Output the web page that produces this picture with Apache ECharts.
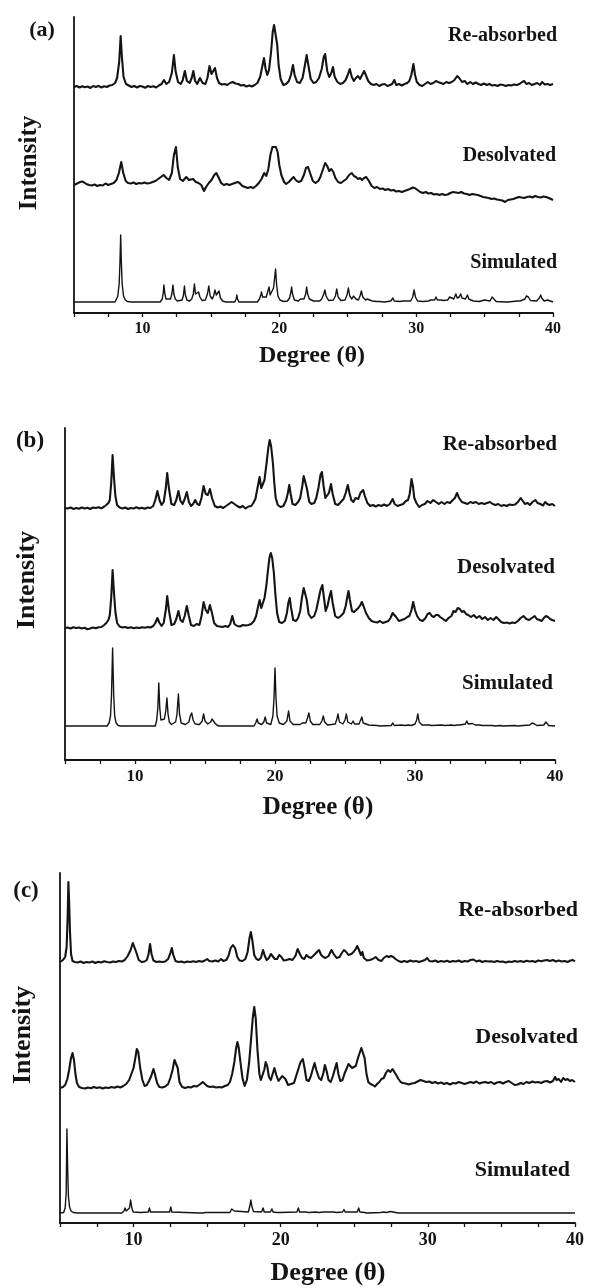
<!DOCTYPE html>
<html>
<head>
<meta charset="utf-8">
<script src="https://cdn.jsdelivr.net/npm/echarts@6/dist/echarts.min.js"></script>
<style>
html,body{margin:0;padding:0;background:#fff;}
#chart{width:594px;height:1288px;}
</style>
</head>
<body>
<div id="chart"></div>
<script>
// ---------- data (x = degree, y = intensity a.u., flat pairs) ----------
const xTickLabels = [10, 20, 30, 40];
const traceNames = ['Re-absorbed', 'Desolvated', 'Simulated'];

// Panel (a)
const aReabsorbed = [5.0,0, 5.2,1, 5.4,-0.5, 5.6,0.8, 5.8,-0.3, 6.0,0.5, 6.2,-1, 6.4,1, 6.6,0, 6.8,1.2, 7.0,-0.5, 7.2,0.8, 7.4,0, 7.6,1.5, 7.8,2, 8.0,4, 8.15,9, 8.3,25, 8.41,51, 8.5,30, 8.62,10, 8.8,3, 9.0,1.5, 9.2,0, 9.4,1, 9.6,-0.5, 9.8,1, 10.0,0.5, 10.2,-0.8, 10.4,1, 10.6,0, 10.8,0.8, 11.0,-0.5, 11.2,1.5, 11.4,3, 11.57,7, 11.75,3, 11.95,5, 12.15,14, 12.3,32, 12.42,16, 12.6,5, 12.8,3, 12.95,7, 13.1,16, 13.25,6, 13.45,4, 13.6,9, 13.72,16, 13.85,6, 14.0,3, 14.2,9, 14.4,4, 14.6,3, 14.75,9, 14.9,21, 15.05,13, 15.15,11, 15.3,19, 15.45,9, 15.6,4, 15.8,2.5, 16.0,3, 16.2,2, 16.4,4, 16.6,5, 16.8,3.5, 17.0,3, 17.2,1.5, 17.4,2, 17.6,0.5, 17.8,1.5, 18.0,0.5, 18.2,2, 18.4,4, 18.6,10, 18.75,20, 18.88,29, 19.0,18, 19.12,12, 19.25,17, 19.4,35, 19.52,55, 19.62,62, 19.72,60, 19.85,42, 19.95,22, 20.1,8, 20.3,2, 20.5,3, 20.7,6, 20.85,12, 21.0,22, 21.12,12, 21.3,5, 21.5,4, 21.7,9, 21.85,20, 22.0,32, 22.12,22, 22.3,8, 22.5,4, 22.7,5, 22.9,9, 23.1,18, 23.25,30, 23.35,33, 23.5,16, 23.65,10, 23.8,14, 23.92,20, 24.05,10, 24.25,5, 24.45,3, 24.65,4, 24.85,7, 25.0,12, 25.15,18, 25.3,10, 25.45,6, 25.6,9, 25.75,11, 25.9,8, 26.05,12, 26.2,16, 26.35,11, 26.5,6, 26.7,3, 26.9,2, 27.1,3, 27.3,1, 27.5,2.5, 27.7,3, 27.9,1, 28.1,2, 28.25,3, 28.4,7, 28.55,2, 28.75,3, 28.95,1.5, 29.15,3, 29.35,4, 29.5,6, 29.65,12, 29.8,23, 29.92,12, 30.05,5, 30.25,2, 30.45,1, 30.65,3, 30.85,5, 31.05,3, 31.25,4, 31.45,6, 31.6,5, 31.8,4, 32.0,3, 32.2,5, 32.4,4, 32.6,5, 32.8,7, 33.0,11, 33.15,9, 33.35,5, 33.55,6, 33.75,3, 33.95,5, 34.15,3, 34.35,4.5, 34.55,3, 34.75,2, 34.95,3.5, 35.15,2, 35.35,3, 35.55,1.5, 35.75,2, 35.95,1, 36.15,2.5, 36.35,2, 36.55,1, 36.75,2, 36.95,1.5, 37.15,2.5, 37.35,2, 37.55,3, 37.75,5, 37.9,6, 38.05,3, 38.25,4, 38.45,2, 38.65,3, 38.85,4, 39.05,2, 39.2,5, 39.4,2.5, 39.6,3, 39.8,2, 40.0,3];

const aDesolvated = [5.0,0, 5.15,1, 5.3,2, 5.45,3, 5.6,3.5, 5.75,2.5, 5.9,1, 6.1,0, 6.3,-0.5, 6.5,0.5, 6.7,-1, 6.9,0, 7.1,-0.5, 7.3,1.5, 7.5,0, 7.7,1, 7.9,2, 8.1,5, 8.28,12, 8.45,23, 8.6,12, 8.78,4, 8.95,2, 9.15,1.5, 9.35,2.5, 9.55,1, 9.75,2, 9.95,1.5, 10.15,2.5, 10.35,1.5, 10.55,2, 10.75,3, 10.95,4, 11.15,6, 11.35,8, 11.55,10, 11.75,7, 11.95,5, 12.15,12, 12.3,30, 12.45,38, 12.58,18, 12.75,6, 12.95,4, 13.2,8, 13.4,5, 13.7,6, 13.9,3, 14.1,2, 14.3,0, 14.5,-6, 14.65,-2, 14.85,2, 15.05,5, 15.25,10, 15.4,12, 15.55,8, 15.75,2, 15.95,0, 16.15,1, 16.35,0, 16.55,1, 16.75,2, 16.95,3, 17.1,2, 17.3,-1, 17.5,-2, 17.7,-3, 17.9,-2, 18.1,-3, 18.3,-1, 18.5,2, 18.7,6, 18.9,12, 19.05,9, 19.2,16, 19.35,30, 19.5,38, 19.62,37, 19.75,38, 19.88,33, 20.0,20, 20.15,10, 20.35,3, 20.5,1, 20.7,3, 20.9,6, 21.05,8, 21.2,5, 21.4,3, 21.6,4, 21.8,10, 21.95,17, 22.1,18, 22.25,12, 22.45,4, 22.65,2, 22.85,4, 23.0,8, 23.2,16, 23.35,22, 23.5,19, 23.65,14, 23.8,16, 23.95,13, 24.1,7, 24.3,3, 24.5,2, 24.7,4, 24.9,6, 25.1,10, 25.3,12, 25.45,9, 25.6,8, 25.75,6, 25.9,7, 26.05,5, 26.2,7, 26.35,8, 26.55,4, 26.75,-1, 26.95,-3, 27.15,-2, 27.35,-4, 27.55,-3.5, 27.75,-5, 27.95,-4, 28.15,-5.5, 28.35,-5, 28.55,-6.5, 28.75,-6, 28.95,-7, 29.15,-6, 29.35,-5, 29.55,-4, 29.75,-2.5, 29.9,-3, 30.1,-5, 30.3,-7, 30.5,-8, 30.7,-7, 30.9,-8.5, 31.1,-8, 31.3,-9.5, 31.5,-9, 31.7,-10, 31.9,-9, 32.1,-10, 32.3,-9.5, 32.5,-8, 32.7,-7, 32.9,-7.5, 33.1,-8, 33.3,-7, 33.5,-8.5, 33.7,-9, 33.9,-10, 34.1,-9, 34.3,-9.5, 34.5,-10, 34.7,-11, 34.9,-12, 35.1,-12.5, 35.3,-13, 35.5,-14, 35.7,-13.5, 35.9,-14.5, 36.1,-15, 36.3,-15.5, 36.5,-17, 36.7,-15, 36.9,-14.5, 37.1,-14, 37.3,-13, 37.5,-12, 37.7,-12.5, 37.9,-13, 38.1,-12, 38.3,-11.5, 38.5,-12.5, 38.7,-11, 38.9,-12, 39.1,-12.5, 39.3,-11.5, 39.5,-12, 39.7,-13, 39.85,-14, 40.0,-15];

const aSimulated = [5.0,0, 7.0,0, 7.1,1.2, 7.2,0, 8.0,0, 8.1,2, 8.2,6, 8.3,18, 8.36,40, 8.41,67, 8.46,40, 8.52,18, 8.62,6, 8.75,2, 8.9,0.5, 9.2,0, 11.3,0, 11.45,3, 11.52,9, 11.57,17, 11.63,9, 11.72,3, 11.85,1, 12.05,3, 12.15,8, 12.23,17, 12.3,8, 12.4,3, 12.55,1, 12.9,2, 13.0,7, 13.07,16, 13.14,7, 13.25,2, 13.45,1, 13.6,3, 13.72,8, 13.8,18, 13.88,8, 14.0,6, 14.1,10, 14.2,5, 14.35,1.5, 14.6,2, 14.75,8, 14.85,16, 14.95,6, 15.1,3, 15.2,6, 15.3,12, 15.4,7, 15.52,8, 15.6,11, 15.7,4, 15.85,1, 16.1,0, 16.75,0, 16.85,3, 16.9,7, 16.95,3, 17.05,0, 18.4,0, 18.55,3, 18.65,7, 18.7,10, 18.78,5, 18.9,3, 19.05,5, 19.15,10, 19.25,15, 19.33,7, 19.45,6, 19.58,14, 19.66,24, 19.73,33, 19.8,18, 19.9,6, 20.05,2, 20.3,0.5, 20.6,1, 20.75,4, 20.85,10, 20.9,15, 20.97,8, 21.1,2, 21.4,1, 21.55,3, 21.6,5, 21.65,2, 21.8,3, 21.93,8, 22.0,15, 22.07,8, 22.2,3, 22.5,1, 22.95,1, 23.1,3, 23.25,8, 23.33,12, 23.42,6, 23.6,1.5, 23.95,2, 24.1,6, 24.2,13, 24.3,5, 24.5,1.5, 24.8,2, 24.95,7, 25.05,14, 25.15,6, 25.3,3, 25.42,6, 25.5,8, 25.6,3, 25.78,2, 25.9,6, 26.0,11, 26.1,5, 26.3,2, 26.45,3, 26.5,5, 26.6,2, 26.8,1, 27.1,0.5, 27.2,2, 27.3,0.5, 27.7,0, 28.15,1, 28.3,4, 28.4,1, 28.8,0.5, 29.05,1, 29.1,3, 29.2,1, 29.6,1, 29.75,5, 29.85,12, 29.95,5, 30.1,1, 30.5,0.5, 30.9,1, 31.05,2, 31.15,1, 31.35,2, 31.45,5, 31.55,2, 31.8,2, 31.9,4, 32.0,1.5, 32.3,2, 32.45,5, 32.5,7, 32.58,3, 32.75,3, 32.9,8, 33.0,4, 33.15,5, 33.25,8, 33.35,4, 33.6,3, 33.75,7, 33.85,3, 34.0,2, 34.1,4, 34.2,1, 34.6,0.5, 35.0,2, 35.1,0.5, 35.4,1, 35.55,5, 35.6,7, 35.68,3, 35.85,0.5, 36.5,0, 36.6,2, 36.7,0, 37.4,1, 37.5,3, 37.6,1, 37.95,3, 38.05,6, 38.12,8, 38.2,5, 38.35,1.5, 38.8,1, 39.0,4, 39.1,7, 39.18,4, 39.35,1, 39.6,2, 39.7,0.5, 40.0,0];

// Panel (b)
const bReabsorbed = [5.0,0, 5.2,-0.5, 5.4,0.5, 5.6,-1, 5.8,0, 6.0,-0.8, 6.2,0.5, 6.4,-0.5, 6.6,0.3, 6.8,-1, 7.0,0.5, 7.2,0, 7.4,0.8, 7.6,-0.3, 7.8,1.5, 7.95,3, 8.1,5, 8.2,8, 8.3,25, 8.4,53, 8.5,30, 8.6,12, 8.72,3, 8.9,0.5, 9.1,-0.5, 9.3,0.5, 9.5,-1, 9.7,0, 9.9,-0.5, 10.1,0.8, 10.3,-0.5, 10.5,0.3, 10.7,-0.8, 10.9,0.5, 11.1,0, 11.3,2, 11.45,8, 11.6,17, 11.75,8, 11.9,3, 12.05,6, 12.2,20, 12.3,35, 12.42,20, 12.6,4, 12.8,3, 12.95,8, 13.1,17, 13.25,7, 13.4,4, 13.55,9, 13.7,16, 13.85,6, 14.0,2, 14.15,4, 14.3,8, 14.45,4, 14.6,3, 14.75,10, 14.9,22, 15.05,14, 15.2,13, 15.35,19, 15.5,10, 15.7,2, 15.9,0.5, 16.1,1.5, 16.3,0, 16.5,2, 16.7,4, 16.9,6, 17.1,4, 17.3,2, 17.5,0.5, 17.7,2, 17.9,-0.5, 18.1,1.5, 18.3,2, 18.45,5, 18.6,9, 18.75,20, 18.9,31, 19.02,20, 19.12,18, 19.25,28, 19.4,45, 19.52,60, 19.62,68, 19.72,62, 19.85,45, 19.95,25, 20.05,10, 20.2,3, 20.4,1, 20.6,2, 20.8,8, 20.92,15, 21.02,23, 21.12,14, 21.25,4, 21.45,3, 21.65,6, 21.8,10, 21.95,22, 22.05,32, 22.15,34, 22.27,20, 22.45,6, 22.6,4, 22.8,5, 22.95,10, 23.1,20, 23.25,33, 23.35,36, 23.47,22, 23.6,10, 23.7,9, 23.85,15, 24.0,24, 24.12,14, 24.3,4, 24.5,3, 24.7,6, 24.9,9, 25.05,15, 25.2,23, 25.32,15, 25.45,8, 25.6,6, 25.75,10, 25.85,12, 25.95,9, 26.1,15, 26.2,14, 26.3,18, 26.42,12, 26.6,5, 26.8,2, 27.0,3, 27.2,1.5, 27.4,3, 27.6,2, 27.8,3.5, 28.0,2, 28.2,4, 28.4,9, 28.55,4, 28.75,2, 28.95,3, 29.15,4, 29.35,7, 29.5,8, 29.62,14, 29.75,29, 29.85,22, 29.95,10, 30.1,5, 30.3,1, 30.5,3, 30.7,4, 30.9,7, 31.1,5, 31.3,8, 31.5,6, 31.7,4, 31.9,6, 32.1,4, 32.3,6, 32.5,5, 32.7,8, 32.85,10, 33.0,15, 33.15,10, 33.35,6, 33.55,5, 33.75,4, 33.95,6, 34.15,5, 34.35,6, 34.55,4, 34.75,5, 34.95,4, 35.15,5, 35.35,6, 35.55,4, 35.75,3, 35.95,4, 36.15,2, 36.35,3, 36.55,2, 36.75,3.5, 36.95,3, 37.15,3.5, 37.35,6, 37.55,10, 37.7,7, 37.85,4, 38.05,5, 38.2,3, 38.4,6, 38.6,8, 38.75,5, 38.95,4, 39.15,2.5, 39.3,6, 39.45,4, 39.6,3, 39.8,4, 40.0,2];

const bDesolvated = [5.0,0, 5.2,0.5, 5.4,-0.5, 5.6,0.8, 5.8,0, 6.0,0.5, 6.2,-0.5, 6.4,0.3, 6.6,-1.2, 6.8,-0.5, 7.0,0.5, 7.2,-0.3, 7.4,0.8, 7.6,1, 7.8,3, 7.95,5, 8.1,8, 8.2,13, 8.3,30, 8.4,58, 8.5,35, 8.6,16, 8.72,5, 8.9,1.5, 9.1,0.5, 9.3,1, 9.5,0, 9.7,0.8, 9.9,-0.3, 10.1,0.5, 10.3,0, 10.5,0.8, 10.7,0.2, 10.9,1, 11.1,0.5, 11.3,2, 11.45,5, 11.6,10, 11.75,5, 11.9,2, 12.05,5, 12.2,18, 12.3,32, 12.42,18, 12.6,3, 12.8,4, 12.95,9, 13.1,17, 13.25,8, 13.4,6, 13.55,12, 13.7,22, 13.85,12, 14.0,3, 14.2,2, 14.4,4, 14.6,3, 14.75,12, 14.9,26, 15.05,18, 15.2,15, 15.35,23, 15.5,15, 15.65,5, 15.85,2, 16.05,1.5, 16.25,1, 16.45,2, 16.65,1, 16.8,4, 16.95,12, 17.1,4, 17.3,2, 17.5,1.5, 17.7,3, 17.9,2.5, 18.1,3, 18.3,4, 18.5,7, 18.65,12, 18.8,22, 18.9,28, 19.02,20, 19.12,18, 19.25,30, 19.38,42, 19.5,58, 19.6,70, 19.7,75, 19.8,70, 19.92,55, 20.02,35, 20.15,15, 20.3,6, 20.5,5, 20.7,7, 20.85,15, 20.95,25, 21.05,30, 21.15,20, 21.3,8, 21.5,7, 21.65,10, 21.8,17, 21.92,30, 22.05,40, 22.15,40, 22.27,28, 22.4,14, 22.6,10, 22.8,12, 22.95,18, 23.1,28, 23.25,38, 23.38,43, 23.5,30, 23.62,17, 23.75,22, 23.9,32, 24.0,37, 24.12,25, 24.3,12, 24.5,10, 24.7,12, 24.9,15, 25.05,22, 25.15,30, 25.25,37, 25.35,28, 25.5,17, 25.65,16, 25.8,18, 25.95,20, 26.1,23, 26.2,26, 26.32,22, 26.5,15, 26.7,10, 26.9,7, 27.1,6, 27.3,5.5, 27.5,7, 27.7,5, 27.9,6, 28.1,7, 28.25,10, 28.4,15, 28.5,17, 28.65,11, 28.85,7, 29.05,8, 29.25,9, 29.45,11, 29.6,12, 29.75,18, 29.87,26, 30.0,18, 30.15,12, 30.35,8, 30.55,7, 30.75,10, 30.9,14, 31.05,15, 31.2,12, 31.35,11, 31.5,13, 31.65,13, 31.8,11, 32.0,9, 32.2,7, 32.4,10, 32.6,12, 32.75,17, 32.9,16, 33.05,20, 33.2,19, 33.35,16, 33.5,17, 33.65,14, 33.8,13, 34.0,11, 34.2,13, 34.4,10, 34.6,12, 34.8,9, 35.0,11, 35.2,8, 35.4,10, 35.6,8, 35.8,11, 35.95,9, 36.15,6, 36.35,5, 36.55,5.5, 36.75,4.5, 36.95,5.5, 37.15,5, 37.35,7, 37.55,10, 37.75,12, 37.95,9, 38.15,8, 38.35,10, 38.55,12, 38.7,9, 38.9,8, 39.05,7, 39.2,10, 39.35,12, 39.5,11, 39.65,9, 39.8,8, 39.9,10, 40.0,7];

const bSimulated = [5.0,0, 8.0,0, 8.15,3, 8.25,10, 8.32,30, 8.4,78, 8.48,30, 8.55,10, 8.65,3, 8.8,0.5, 9.0,0, 11.45,0, 11.55,6, 11.63,18, 11.7,43, 11.77,18, 11.85,6, 11.95,4, 12.1,7, 12.2,15, 12.28,28, 12.36,12, 12.45,4, 12.6,1.5, 12.9,4, 13.0,12, 13.1,32, 13.18,12, 13.3,3, 13.6,1.5, 13.85,4, 13.95,10, 14.05,13, 14.15,6, 14.3,2, 14.6,1.5, 14.8,5, 14.9,12, 15.0,5, 15.2,2, 15.4,4, 15.5,7, 15.6,8, 15.7,3, 15.85,1, 16.0,0, 16.85,0, 16.95,2, 17.05,0, 18.5,0, 18.62,3, 18.72,7, 18.8,3, 19.05,1.5, 19.2,4, 19.3,9, 19.4,3, 19.7,1.5, 19.85,10, 19.93,28, 20.0,58, 20.07,28, 20.15,10, 20.3,3, 20.6,1.5, 20.85,5, 20.97,15, 21.07,5, 21.3,1.5, 21.8,1.5, 21.95,3, 22.05,1, 22.2,3, 22.32,8, 22.42,13, 22.52,5, 22.7,1.5, 23.2,1.5, 23.35,5, 23.45,10, 23.55,4, 23.75,1, 24.3,2, 24.42,7, 24.5,12, 24.6,4, 24.85,2, 25.0,6, 25.1,12, 25.2,4, 25.45,2, 25.58,5, 25.68,2, 26.0,2, 26.12,6, 26.2,9, 26.3,3, 26.5,2, 26.6,3, 26.7,1, 27.3,0.5, 27.4,1.5, 27.5,0, 28.3,0.5, 28.42,3, 28.52,0.5, 29.05,1, 29.15,2, 29.25,0.5, 29.55,1, 29.65,2, 29.75,0.5, 30.0,2, 30.12,6, 30.2,12, 30.3,4, 30.5,1, 31.0,1, 31.1,2, 31.2,0.5, 31.9,1, 32.0,2, 32.1,0.5, 32.6,1, 32.7,2.5, 32.8,0.5, 33.0,1, 33.1,2.5, 33.2,1, 33.6,2, 33.7,5, 33.8,2, 34.1,2.5, 34.2,4, 34.3,1, 34.6,1, 34.7,2, 34.8,0.5, 35.5,0.5, 35.6,1, 35.7,0, 36.1,0.5, 36.2,1, 36.3,0, 37.1,0.5, 37.2,1.5, 37.3,0, 38.2,1, 38.35,3, 38.45,5, 38.55,2, 38.7,0.5, 39.2,1, 39.35,4, 39.42,2, 39.55,0.5, 40.0,0];

// Panel (c)
const cReabsorbed = [5.0,0, 5.2,2, 5.35,5, 5.45,15, 5.52,45, 5.57,80, 5.62,60, 5.68,30, 5.75,8, 5.85,1, 6.0,0, 6.2,-0.5, 6.4,0.5, 6.6,-1, 6.8,0, 7.0,-0.5, 7.2,0.5, 7.4,-1, 7.6,0.3, 7.8,-0.5, 8.0,0.8, 8.2,0, 8.4,-0.5, 8.6,0.5, 8.8,0, 9.0,1, 9.2,0.5, 9.4,2, 9.6,6, 9.8,12, 9.95,19, 10.05,18, 10.2,9, 10.35,2, 10.55,0, 10.75,0.5, 10.9,2, 11.02,8, 11.12,18, 11.22,8, 11.35,1.5, 11.55,0, 11.75,0.5, 11.95,0, 12.15,0.5, 12.35,3, 12.5,9, 12.6,14, 12.7,7, 12.85,1, 13.05,0, 13.25,0.5, 13.45,-0.5, 13.65,0.5, 13.85,0, 14.05,0.8, 14.25,0, 14.45,1, 14.65,0.3, 14.85,1.5, 15.0,3, 15.15,1, 15.35,0.5, 15.55,1.5, 15.75,0.5, 15.95,3, 16.1,1, 16.3,2, 16.45,6, 16.6,14, 16.75,17, 16.9,14, 17.05,5, 17.2,1.5, 17.4,1, 17.6,3, 17.75,10, 17.88,24, 17.97,30, 18.07,22, 18.2,7, 18.35,3, 18.5,2, 18.65,4, 18.8,12, 18.92,6, 19.05,2, 19.2,4, 19.33,8, 19.45,6, 19.6,3, 19.75,3, 19.9,7, 20.05,5, 20.2,1.5, 20.4,2, 20.6,3, 20.8,2, 21.0,6, 21.15,13, 21.3,8, 21.45,4, 21.6,3, 21.75,7, 21.9,5, 22.05,4, 22.2,6, 22.4,9, 22.6,12, 22.75,7, 22.9,5, 23.05,4, 23.25,6, 23.45,12, 23.6,8, 23.8,4, 24.0,5, 24.15,9, 24.3,12, 24.45,10, 24.6,7, 24.8,8, 24.95,10, 25.1,13, 25.2,16, 25.32,12, 25.45,7, 25.55,10, 25.65,4, 25.87,1.5, 26.05,2, 26.25,3, 26.45,5, 26.65,2, 26.85,1, 27.0,4, 27.2,6, 27.35,5, 27.5,6, 27.65,5, 27.8,3, 28.0,1, 28.2,0, 28.4,1, 28.6,0, 28.8,1.5, 29.0,0.5, 29.2,1, 29.4,0, 29.6,1, 29.8,2, 29.95,4, 30.1,1, 30.3,0.5, 30.5,1.5, 30.7,0, 30.9,1, 31.1,0.3, 31.3,1.2, 31.5,0, 31.7,1, 31.9,0.5, 32.1,1.5, 32.3,0, 32.5,1, 32.7,0.5, 32.9,2, 33.1,2.5, 33.3,0.5, 33.5,1.5, 33.7,0, 33.9,1, 34.1,0.5, 34.3,0.8, 34.5,0, 34.7,1, 34.9,0.3, 35.1,0.5, 35.3,-0.5, 35.5,0.5, 35.7,0, 35.9,1, 36.1,0.3, 36.3,1, 36.5,0, 36.7,1.2, 36.9,0.5, 37.1,1, 37.3,0, 37.5,1.5, 37.7,0.8, 37.9,1.5, 38.1,2, 38.3,1, 38.5,2, 38.7,0.5, 38.9,1.5, 39.1,0.5, 39.3,1, 39.5,0, 39.7,1.5, 39.85,2, 40.0,0.5];

const cDesolvated = [5.0,0, 5.2,1, 5.35,3, 5.5,9, 5.62,18, 5.75,30, 5.85,35, 5.95,28, 6.05,14, 6.15,5, 6.3,1, 6.5,0, 6.7,-0.5, 6.9,0.5, 7.1,-0.3, 7.3,1, 7.5,0, 7.7,0.8, 7.9,-0.5, 8.1,0.5, 8.3,0, 8.5,1, 8.7,0.3, 8.9,1.5, 9.1,0.5, 9.3,2, 9.5,4, 9.7,8, 9.85,14, 10.0,20, 10.12,30, 10.22,39, 10.32,36, 10.45,20, 10.6,8, 10.75,2, 10.9,3, 11.05,7, 11.2,12, 11.35,19, 11.45,14, 11.6,5, 11.75,1, 11.95,0.5, 12.15,1.5, 12.35,4, 12.5,10, 12.65,18, 12.78,28, 12.88,30, 13.0,20, 13.12,6, 13.3,1, 13.5,0, 13.7,1, 13.9,0.5, 14.1,2, 14.3,1.5, 14.5,3.5, 14.7,6, 14.85,4, 15.0,2, 15.2,1, 15.4,1.5, 15.6,0.5, 15.8,1, 16.0,0.5, 16.2,2, 16.4,3, 16.55,6, 16.7,14, 16.85,26, 16.97,40, 17.06,46, 17.15,40, 17.27,25, 17.4,10, 17.55,2, 17.7,8, 17.85,25, 17.98,48, 18.1,70, 18.2,81, 18.3,70, 18.42,38, 18.55,14, 18.65,8, 18.75,8, 18.88,18, 18.98,26, 19.08,22, 19.2,11, 19.33,8, 19.45,14, 19.57,20, 19.7,13, 19.85,7, 19.97,6, 20.1,12, 20.2,14, 20.32,9, 20.5,3, 20.7,4, 20.9,5, 21.05,12, 21.2,19, 21.35,26, 21.5,29, 21.62,20, 21.75,8, 21.9,7, 22.05,12, 22.2,20, 22.3,25, 22.42,18, 22.6,10, 22.75,8, 22.9,15, 23.0,23, 23.12,17, 23.25,8, 23.4,6, 23.55,12, 23.7,20, 23.8,25, 23.92,14, 24.05,7, 24.2,8, 24.35,15, 24.5,20, 24.6,24, 24.72,25, 24.85,20, 24.97,18, 25.1,22, 25.25,30, 25.37,32, 25.48,40, 25.58,42, 25.7,30, 25.83,14, 25.95,6, 26.1,4, 26.25,3, 26.4,1.5, 26.55,4, 26.7,6, 26.85,9, 27.0,10, 27.15,15, 27.3,18, 27.45,16, 27.6,19, 27.72,17, 27.85,13, 28.0,9, 28.15,6, 28.3,5, 28.5,4.5, 28.7,3.5, 28.9,4.5, 29.1,5, 29.3,6.5, 29.5,8, 29.7,7, 29.9,6, 30.1,6.5, 30.3,5, 30.5,6, 30.7,4.5, 30.9,5.5, 31.1,4, 31.3,5, 31.5,3.5, 31.7,5, 31.9,4.5, 32.1,6, 32.3,5, 32.5,4, 32.7,5, 32.9,6, 33.1,5, 33.3,6.5, 33.5,4.5, 33.7,5.5, 33.9,6, 34.1,5, 34.3,6, 34.5,4, 34.7,5.5, 34.9,6, 35.1,4.5, 35.3,6, 35.5,7, 35.7,5, 35.9,3, 36.1,3.5, 36.3,5, 36.5,4, 36.7,6, 36.9,5, 37.1,6.5, 37.3,5.5, 37.5,6, 37.7,5, 37.9,6.5, 38.1,7, 38.3,5.5, 38.5,7, 38.65,11, 38.75,8, 38.9,9, 39.05,6, 39.2,10, 39.35,8, 39.5,9, 39.65,7, 39.8,8, 40.0,6];

const cSimulated = [5.0,0, 5.25,0.5, 5.35,5, 5.42,20, 5.47,84, 5.52,45, 5.57,17, 5.65,6, 5.75,2, 5.9,0.5, 6.2,0, 7.0,0, 7.1,-0.3, 9.2,0, 9.35,2, 9.42,5, 9.5,2, 9.6,1.5, 9.72,5, 9.8,13, 9.88,5, 9.98,1, 10.5,0.5, 11.0,1, 11.08,5, 11.15,1, 12.45,1, 12.53,6, 12.6,1, 14.5,0, 14.6,1, 14.7,0, 14.9,0.5, 15.0,-0.3, 16.55,0.5, 16.67,4, 16.75,6, 16.85,2, 17.8,1, 17.9,7, 17.97,13, 18.05,6, 18.15,1.5, 18.7,1, 18.8,5, 18.88,1, 19.3,1, 19.4,4, 19.48,1, 19.75,0.5, 19.85,2, 19.93,0.5, 21.1,1, 21.2,5, 21.28,1, 21.7,1, 21.8,2.5, 21.88,0.5, 22.4,1, 22.5,2.5, 22.58,0.5, 22.95,1, 23.0,3, 23.08,0.5, 23.6,1, 23.7,2.5, 23.78,0.5, 24.2,1, 24.3,3.5, 24.38,1, 24.75,1, 24.85,3, 24.92,1, 25.2,1, 25.3,5, 25.38,1, 25.7,0.5, 25.76,1.5, 25.85,0, 26.8,0.5, 27.0,1, 27.1,1.5, 27.2,0.5, 27.45,1.5, 27.55,0.3, 28.0,0, 29.0,0, 29.1,-0.5, 29.2,0, 30.8,0, 30.9,-1, 31.0,0, 32.6,0, 32.7,-0.5, 32.8,0, 34.2,0, 34.3,-1, 34.4,0, 35.6,0, 35.7,-1.5, 35.8,0, 40.0,0];

// ---------- layout ----------
const FONT = '"Liberation Serif", "Times New Roman", serif';
const INK = '#141414';
const panels = [
  { tag: '(a)', grid: {left: 74, top: 17, width: 479, height: 296},
    traces: [aReabsorbed, aDesolvated, aSimulated], offsets: [226, 128, 11],
    tickFont: 16, labelFont: 20, nameFont: 24, intFont: 25, tagFont: 22,
    labelPos: [[557, 36], [556, 156], [557, 263]], degPos: [312, 356], intPos: [30, 163], tagPos: [42, 30] },
  { tag: '(b)', grid: {left: 65, top: 428, width: 490, height: 332},
    traces: [bReabsorbed, bDesolvated, bSimulated], offsets: [252, 132, 34],
    tickFont: 17, labelFont: 21, nameFont: 25, intFont: 26, tagFont: 23,
    labelPos: [[557, 445], [555, 568], [553, 684]], degPos: [318, 808], intPos: [27, 580], tagPos: [30, 441] },
  { tag: '(c)', grid: {left: 60, top: 873, width: 515, height: 350},
    traces: [cReabsorbed, cDesolvated, cSimulated], offsets: [261, 135, 10],
    tickFont: 18, labelFont: 22, nameFont: 26, intFont: 26, tagFont: 23,
    labelPos: [[578, 910], [578, 1037], [570, 1170]], degPos: [328, 1273], intPos: [23, 1035], tagPos: [26, 891] }
];

function pairs(flat, off) {
  const out = [];
  for (let i = 0; i < flat.length; i += 2) out.push([flat[i], flat[i + 1] + off]);
  return out;
}

const grids = [], xAxes = [], yAxes = [], series = [], graphics = [];
panels.forEach((p, pi) => {
  grids.push(Object.assign({containLabel: false}, p.grid));
  xAxes.push({
    type: 'value', gridIndex: pi, min: 5, max: 40, interval: 2.5,
    axisLine: {show: true, onZero: false, lineStyle: {color: INK, width: 1.8}},
    axisTick: {show: true, inside: false, length: 4, lineStyle: {color: INK, width: 1.3}},
    splitLine: {show: false},
    axisLabel: {
      margin: 8, color: INK, fontFamily: FONT, fontWeight: 'bold', fontSize: p.tickFont,
      formatter: v => (xTickLabels.indexOf(v) >= 0 ? String(v) : '')
    }
  });
  yAxes.push({
    type: 'value', gridIndex: pi, min: 0, max: p.grid.height,
    axisLine: {show: true, onZero: false, lineStyle: {color: INK, width: 1.8}},
    axisTick: {show: false}, axisLabel: {show: false}, splitLine: {show: false}
  });
  p.traces.forEach((t, ti) => {
    series.push({
      type: 'line', name: traceNames[ti] + ' ' + p.tag, xAxisIndex: pi, yAxisIndex: pi,
      data: pairs(t, p.offsets[ti]), showSymbol: false, symbol: 'none', smooth: false,
      lineStyle: {color: INK, width: ti === 2 ? 1.4 : 2.1, join: 'round'}, animation: false, silent: true, z: 3
    });
    graphics.push({
      type: 'text', x: p.labelPos[ti][0], y: p.labelPos[ti][1],
      style: {text: traceNames[ti], fill: INK, font: 'bold ' + p.labelFont + 'px ' + FONT,
              textAlign: 'right', textVerticalAlign: 'middle'}
    });
  });
  graphics.push({
    type: 'text', x: p.degPos[0], y: p.degPos[1],
    style: {text: 'Degree (\u03B8)', fill: INK, font: 'bold ' + p.nameFont + 'px ' + FONT,
            textAlign: 'center', textVerticalAlign: 'middle'}
  });
  graphics.push({
    type: 'text', x: p.intPos[0], y: p.intPos[1], rotation: Math.PI / 2,
    style: {text: 'Intensity', fill: INK, font: 'bold ' + p.intFont + 'px ' + FONT,
            textAlign: 'center', textVerticalAlign: 'middle'}
  });
  graphics.push({
    type: 'text', x: p.tagPos[0], y: p.tagPos[1],
    style: {text: p.tag, fill: INK, font: 'bold ' + p.tagFont + 'px ' + FONT,
            textAlign: 'center', textVerticalAlign: 'middle'}
  });
});

const chart = echarts.init(document.getElementById('chart'), null, {renderer: 'canvas'});
chart.setOption({
  backgroundColor: '#ffffff',
  animation: false,
  grid: grids, xAxis: xAxes, yAxis: yAxes, series: series,
  graphic: graphics
});
</script>
</body>
</html>
